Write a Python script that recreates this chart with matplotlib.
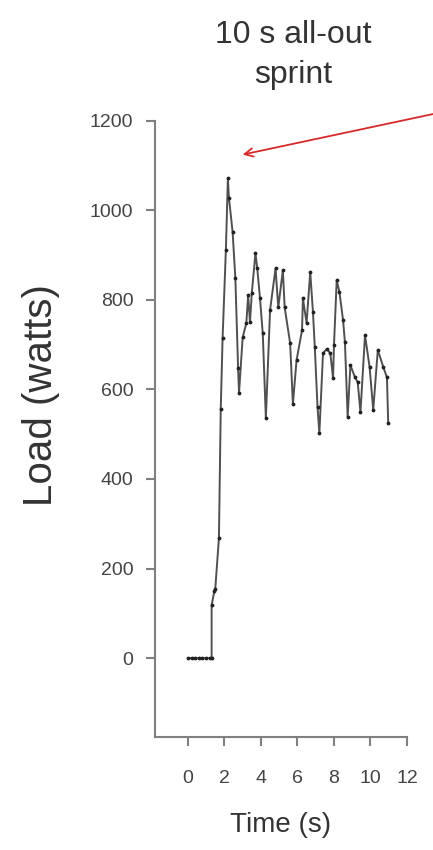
import matplotlib
matplotlib.use("Agg")
import matplotlib.pyplot as plt

plt.rcParams['font.family'] = ['Liberation Sans', 'DejaVu Sans']

# load trace during the 10 s sprint
time_s = [0.0, 0.2, 0.4, 0.6, 0.8, 1.0, 1.2, 1.3, 1.3, 1.45, 1.5, 1.7, 1.8, 1.9,
          2.08, 2.19, 2.25, 2.45, 2.6, 2.75, 2.8, 3.0, 3.2, 3.3, 3.4, 3.5, 3.7,
          3.8, 3.95, 4.1, 4.27, 4.5, 4.8, 4.95, 5.2, 5.3, 5.6, 5.75, 5.95, 6.25,
          6.3, 6.5, 6.7, 6.85, 6.95, 7.1, 7.2, 7.4, 7.6, 7.8, 7.95, 8.0, 8.15,
          8.3, 8.5, 8.6, 8.75, 8.9, 9.15, 9.3, 9.45, 9.7, 9.95, 10.15, 10.4,
          10.7, 10.9, 10.97]
load_w = [0, 0, 0, 0, 0, 0, 0, 0, 118, 150, 155, 268, 557, 714,
          911, 1071, 1027, 951, 848, 647, 592, 716, 748, 810, 750, 815, 904,
          870, 803, 725, 536, 777, 870, 783, 866, 783, 703, 567, 665, 732,
          803, 748, 862, 772, 694, 560, 502, 681, 690, 681, 625, 699, 844,
          817, 754, 705, 538, 654, 627, 616, 549, 721, 650, 554, 688,
          650, 627, 525]

x_ticks = [0, 2, 4, 6, 8, 10, 12]
y_ticks = [0, 200, 400, 600, 800, 1000, 1200]

fig = plt.figure(figsize=(4.33, 8.5), dpi=100)
ax = fig.add_axes([0.358, 0.133, 0.582, 0.725])

ax.plot(time_s, load_w, color="#505050", lw=1.4, marker=".", ms=3.5,
        mfc="#222222", mec="#222222")

ax.set_xlim(-1.8, 12)
ax.set_ylim(-176, 1200)
ax.set_xticks(x_ticks)
ax.set_yticks(y_ticks)

for s in ["top", "right"]:
    ax.spines[s].set_visible(False)
for s in ["left", "bottom"]:
    ax.spines[s].set_color("#808080")
    ax.spines[s].set_linewidth(1.5)

ax.tick_params(axis="both", direction="out", color="#808080", width=1.5,
               length=6.5, labelsize=14, labelcolor="#444444")
ax.tick_params(axis="y", pad=9)
ax.tick_params(axis="x", pad=17)

ax.set_xlabel("Time (s)", fontsize=20, color="#333333", labelpad=18)
ax.set_ylabel("Load (watts)", fontsize=29, color="#333333")
ax.yaxis.set_label_coords(-0.377, 0.554)

fig.text(0.677, 0.935, "10 s all-out\nsprint", ha="center", va="center",
         fontsize=23, color="#333333", linespacing=1.45)

ax.annotate("", xy=(2.85, 1123), xycoords="data",
            xytext=(1.02, 0.868), textcoords="figure fraction",
            arrowprops=dict(arrowstyle="->,head_length=0.6,head_width=0.3",
                            color="#d62a2a", lw=1.3),
            annotation_clip=False)

fig.savefig("out.png", dpi=100)
